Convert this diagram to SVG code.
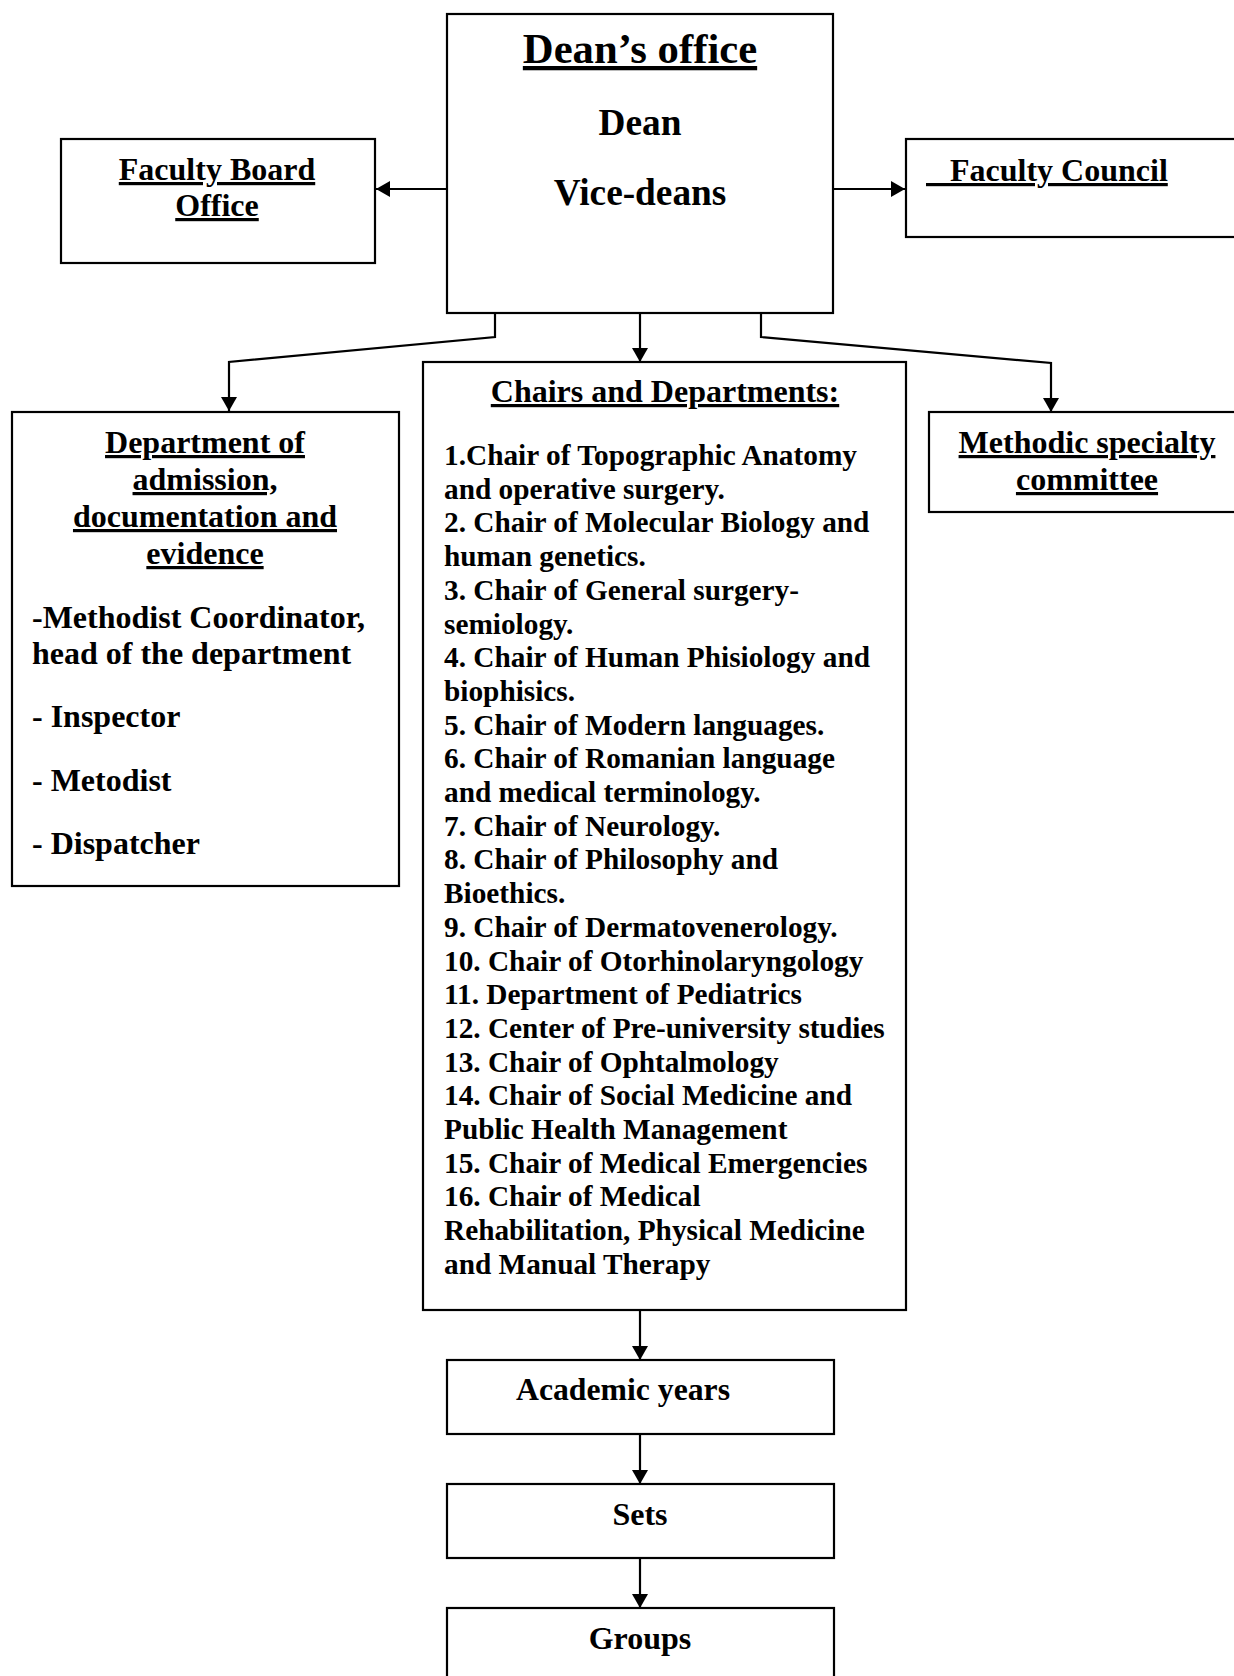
<svg xmlns="http://www.w3.org/2000/svg" width="1234" height="1676" viewBox="0 0 1234 1676">
<style>
.box{fill:#fff;stroke:#000;stroke-width:2.2}
.t{font-family:"Liberation Serif","Times New Roman",serif;font-weight:bold;fill:#000}
.c{text-anchor:middle}
.u{text-decoration:underline;text-decoration-thickness:3px;text-underline-offset:4px}
.s32{font-size:32px}
.s29{font-size:29.3px}
.s37{font-size:37.3px}
.s43{font-size:42.7px}
.con{fill:none;stroke:#000;stroke-width:2.2}
</style>
<defs>
<marker id="ah" viewBox="0 0 14 16" refX="14" refY="8" markerWidth="14" markerHeight="16" markerUnits="userSpaceOnUse" orient="auto">
<path d="M0,0 L14,8 L0,16 Z" fill="#000"/>
</marker>
</defs>
<rect width="1234" height="1676" fill="#fff"/>

<g id="connectors">
<line class="con" x1="447" y1="189" x2="376" y2="189" marker-end="url(#ah)"/>
<line class="con" x1="833" y1="189" x2="905" y2="189" marker-end="url(#ah)"/>
<polyline class="con" points="495,313 495,337 229,362 229,411" marker-end="url(#ah)"/>
<line class="con" x1="640" y1="313" x2="640" y2="362" marker-end="url(#ah)"/>
<polyline class="con" points="761,313 761,337 1051,363 1051,412" marker-end="url(#ah)"/>
<line class="con" x1="640" y1="1310" x2="640" y2="1360" marker-end="url(#ah)"/>
<line class="con" x1="640" y1="1434" x2="640" y2="1484" marker-end="url(#ah)"/>
<line class="con" x1="640" y1="1558" x2="640" y2="1608" marker-end="url(#ah)"/>
</g>

<g id="deans-office">
<rect class="box" x="447" y="14" width="386" height="299"/>
<text class="t c u s43" x="640" y="63">Dean’s office</text>
<text class="t c s37" x="640" y="135">Dean</text>
<text class="t c s37" x="640" y="205">Vice-deans</text>
</g>

<g id="faculty-board-office">
<rect class="box" x="61" y="139" width="314" height="124"/>
<text class="t c u s32" x="217" y="180">Faculty Board</text>
<text class="t c u s32" x="217" y="216">Office</text>
</g>

<g id="faculty-council">
<rect class="box" x="906" y="139" width="340" height="98"/>
<text class="t u s32" x="926" y="181" xml:space="preserve">   Faculty Council</text>
</g>

<g id="admission-department">
<rect class="box" x="12" y="412" width="387" height="474"/>
<text class="t c u s32" x="205" y="453">Department of</text>
<text class="t c u s32" x="205" y="490">admission,</text>
<text class="t c u s32" x="205" y="527">documentation and</text>
<text class="t c u s32" x="205" y="564">evidence</text>
<text class="t s32" x="32" y="628">-Methodist Coordinator,</text>
<text class="t s32" x="32" y="664">head of the department</text>
<text class="t s32" x="32" y="727">- Inspector</text>
<text class="t s32" x="32" y="791">- Metodist</text>
<text class="t s32" x="32" y="854">- Dispatcher</text>
</g>

<g id="chairs-departments">
<rect class="box" x="423" y="362" width="483" height="948"/>
<text class="t c u s32" x="665" y="402">Chairs and Departments:</text>
<g class="t s29">
<text x="444" y="465">1.Chair of Topographic Anatomy</text>
<text x="444" y="498.7">and operative surgery.</text>
<text x="444" y="532.4">2. Chair of Molecular Biology and</text>
<text x="444" y="566.1">human genetics.</text>
<text x="444" y="599.8">3. Chair of General surgery-</text>
<text x="444" y="633.5">semiology.</text>
<text x="444" y="667.2">4. Chair of Human Phisiology and</text>
<text x="444" y="700.9">biophisics.</text>
<text x="444" y="734.6">5. Chair of Modern languages.</text>
<text x="444" y="768.3">6. Chair of Romanian language</text>
<text x="444" y="802">and medical terminology.</text>
<text x="444" y="835.7">7. Chair of Neurology.</text>
<text x="444" y="869.4">8. Chair of Philosophy and</text>
<text x="444" y="903.1">Bioethics.</text>
<text x="444" y="936.8">9. Chair of Dermatovenerology.</text>
<text x="444" y="970.5">10. Chair of Otorhinolaryngology</text>
<text x="444" y="1004.2">11. Department of Pediatrics</text>
<text x="444" y="1037.9">12. Center of Pre-university studies</text>
<text x="444" y="1071.6">13. Chair of Ophtalmology</text>
<text x="444" y="1105.3">14. Chair of Social Medicine and</text>
<text x="444" y="1139">Public Health Management</text>
<text x="444" y="1172.7">15. Chair of Medical Emergencies</text>
<text x="444" y="1206.4">16. Chair of Medical</text>
<text x="444" y="1240.1">Rehabilitation, Physical Medicine</text>
<text x="444" y="1273.8">and Manual Therapy</text>
</g>
</g>

<g id="methodic-committee">
<rect class="box" x="929" y="412" width="320" height="100"/>
<text class="t c u s32" x="1087" y="453">Methodic specialty</text>
<text class="t c u s32" x="1087" y="490">committee</text>
</g>

<g id="academic-years">
<rect class="box" x="447" y="1360" width="387" height="74"/>
<text class="t s32" x="516" y="1400" textLength="214" lengthAdjust="spacingAndGlyphs">Academic years</text>
</g>

<g id="sets">
<rect class="box" x="447" y="1484" width="387" height="74"/>
<text class="t c s32" x="640" y="1525">Sets</text>
</g>

<g id="groups">
<rect class="box" x="447" y="1608" width="387" height="80"/>
<text class="t c s32" x="640" y="1649">Groups</text>
</g>
</svg>
